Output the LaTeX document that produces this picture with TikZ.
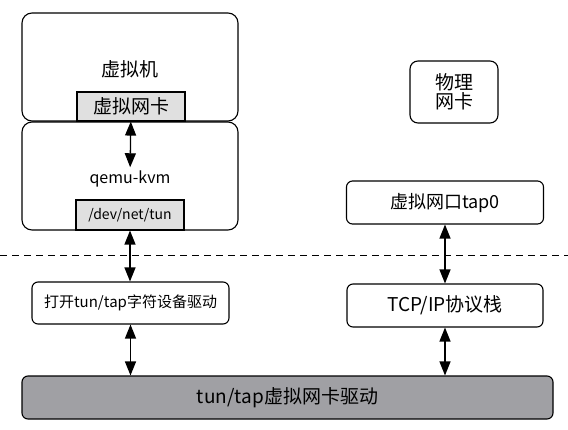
\documentclass[tikz,border=0pt]{standalone}
\usepackage{fontspec}
\setmainfont{Noto Sans CJK SC}
\usepackage{tikz}
\usetikzlibrary{arrows.meta,positioning}
\definecolor{boxgray}{RGB}{224,224,224}
\definecolor{drvgray}{RGB}{160,160,164}
\tikzset{
  rbox/.style={draw,line width=1.1pt,rounded corners=10pt,fill=white,inner sep=0pt},
  gbox/.style={draw,line width=1.1pt,fill=boxgray,inner sep=0pt},
  link/.style={<->,line width=1.3pt},
}

\begin{document}
\begin{tikzpicture}[x=1pt,y=-1pt,>={Triangle[length=14pt,width=11pt]}]
  \useasboundingbox (0,0) rectangle (568,429);
  % host side (user space)
  \node[rbox,minimum width=216pt,minimum height=108pt] (vm) at (130,67) {};
  \node[font=\fontsize{19}{21}\selectfont] (vmlbl) at (130,69) {虚拟机};
  \node[gbox,minimum width=108pt,minimum height=29pt,font=\fontsize{19}{21}\selectfont] (vnic) at (131,106.5) {虚拟网卡};
  \node[rbox,minimum width=216pt,minimum height=108pt] (qemu) at (130,176) {};
  \node[font=\fontsize{16}{18}\selectfont] (qemulbl) at (130,179) {qemu-kvm};
  \node[gbox,minimum width=108pt,minimum height=30pt,font=\fontsize{14}{16}\selectfont] (tundev) at (130,215) {/dev/net/tun};
  \node[rbox,rounded corners=8pt,minimum width=88pt,minimum height=62pt,align=center,font=\fontsize{19}{19}\selectfont] (phys) at (454,92) {物理\\网卡};
  \node[rbox,rounded corners=6pt,minimum width=197pt,minimum height=43pt,font=\fontsize{18}{20}\selectfont] (tap0) at (445,202.5) {虚拟网口tap0};
  % user / kernel border
  \coordinate (dl) at (0,255);
  \coordinate (dr) at (568,255);
  \draw[line width=1pt,dash pattern=on 7pt off 5pt] (dl) -- (dr);
  % kernel side
  \node[rbox,rounded corners=6pt,minimum width=197pt,minimum height=42pt,font=\fontsize{15}{17}\selectfont] (chardrv) at (130.5,303) {打开tun/tap字符设备驱动};
  \node[rbox,rounded corners=6pt,minimum width=196pt,minimum height=43pt,font=\fontsize{19}{21}\selectfont] (tcpip) at (445,305.5) {TCP/IP协议栈};
  \node[rbox,rounded corners=6pt,fill=drvgray,minimum width=531pt,minimum height=43pt,font=\fontsize{19}{21}\selectfont] (drv) at (287.5,397.5) {tun/tap虚拟网卡驱动};
  % links
  \draw[link] (vnic) -- (qemulbl);
  \draw[link] (tundev.south) -- (tundev.south |- chardrv.north);
  \draw[link] (chardrv.south) -- (chardrv.south |- drv.north);
  \draw[link] (tap0.south) -- (tap0.south |- tcpip.north);
  \draw[link] (tcpip.south) -- (tcpip.south |- drv.north);
\end{tikzpicture}
\end{document}
